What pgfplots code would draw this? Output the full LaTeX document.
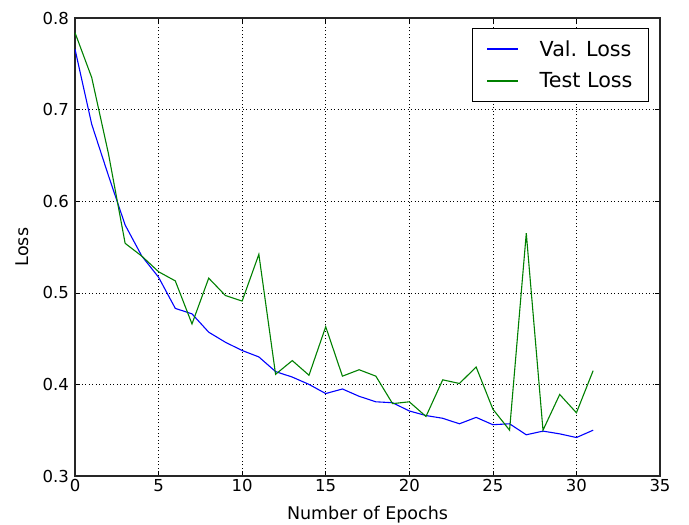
\documentclass[border=0pt]{standalone}
\usepackage{pgfplots}
\pgfplotsset{compat=1.18}
\usepackage{fontspec}
\setmainfont{DejaVu Sans}
\definecolor{mplgreen}{rgb}{0,0.5,0}
\definecolor{mplblue}{rgb}{0,0,1}
\begin{document}
\begin{tikzpicture}
\useasboundingbox (-75pt,-49pt) rectangle (614pt,476pt);
\begin{axis}[
  scale only axis,
  width=585pt, height=458pt,
  xmin=0, xmax=35, ymin=0.3, ymax=0.8,
  xtick={0,5,...,35},
  ytick={0.3,0.4,...,0.81},
  /pgf/number format/assume math mode=true,
  yticklabel style={xshift=-2.5pt, /pgf/number format/.cd, fixed, fixed zerofill, precision=1},
  tick label style={font=\fontsize{16.5}{19}\selectfont, color=black},
  label style={font=\fontsize{17.5}{20}\selectfont},
  xlabel={Number of Epochs},
  ylabel={Loss},
  xlabel style={yshift=-7pt},
  ylabel style={yshift=7pt},
  tick align=inside,
  major tick length=5pt,
  tick style={black, line width=0.6pt},
  axis line style={line width=1.2pt, black!85},
  grid=major,
  major grid style={black, line width=0.6pt, dash pattern=on 1pt off 2.5pt},
  legend style={at={(0.981,0.978)}, anchor=north east, draw=black, thick,
    font=\fontsize{20.7}{24}\selectfont, inner xsep=14pt, inner ysep=10pt,
    row sep=11pt, legend cell align=left,
    /tikz/every odd column/.append style={column sep=20pt}},
]
\addplot[color=mplblue, line width=1.1pt,
  legend image code/.code={\fill[mplblue, draw=none] (0pt,-0.6pt) rectangle (31pt,0.6pt);}] coordinates {
(0,0.766) (1,0.684) (2,0.628) (3,0.574) (4,0.540) (5,0.517) (6,0.483) (7,0.477)
(8,0.457) (9,0.446) (10,0.437) (11,0.430) (12,0.414) (13,0.408) (14,0.400) (15,0.390)
(16,0.395) (17,0.387) (18,0.381) (19,0.380) (20,0.371) (21,0.366) (22,0.363) (23,0.357)
(24,0.364) (25,0.356) (26,0.357) (27,0.345) (28,0.349) (29,0.346) (30,0.342) (31,0.350)
};
\addlegendentry{Val. Loss}
\addplot[color=mplgreen, line width=1.1pt,
  legend image code/.code={\fill[mplgreen, draw=none] (0pt,-0.6pt) rectangle (31pt,0.6pt);}] coordinates {
(0,0.784) (1,0.735) (2,0.652) (3,0.554) (4,0.540) (5,0.523) (6,0.513) (7,0.466)
(8,0.516) (9,0.497) (10,0.491) (11,0.542) (12,0.411) (13,0.426) (14,0.410) (15,0.463)
(16,0.409) (17,0.416) (18,0.409) (19,0.379) (20,0.381) (21,0.365) (22,0.405) (23,0.401)
(24,0.419) (25,0.373) (26,0.350) (27,0.565) (28,0.350) (29,0.389) (30,0.369) (31,0.415)
};
\addlegendentry{Test Loss}
\end{axis}
\end{tikzpicture}
\end{document}
